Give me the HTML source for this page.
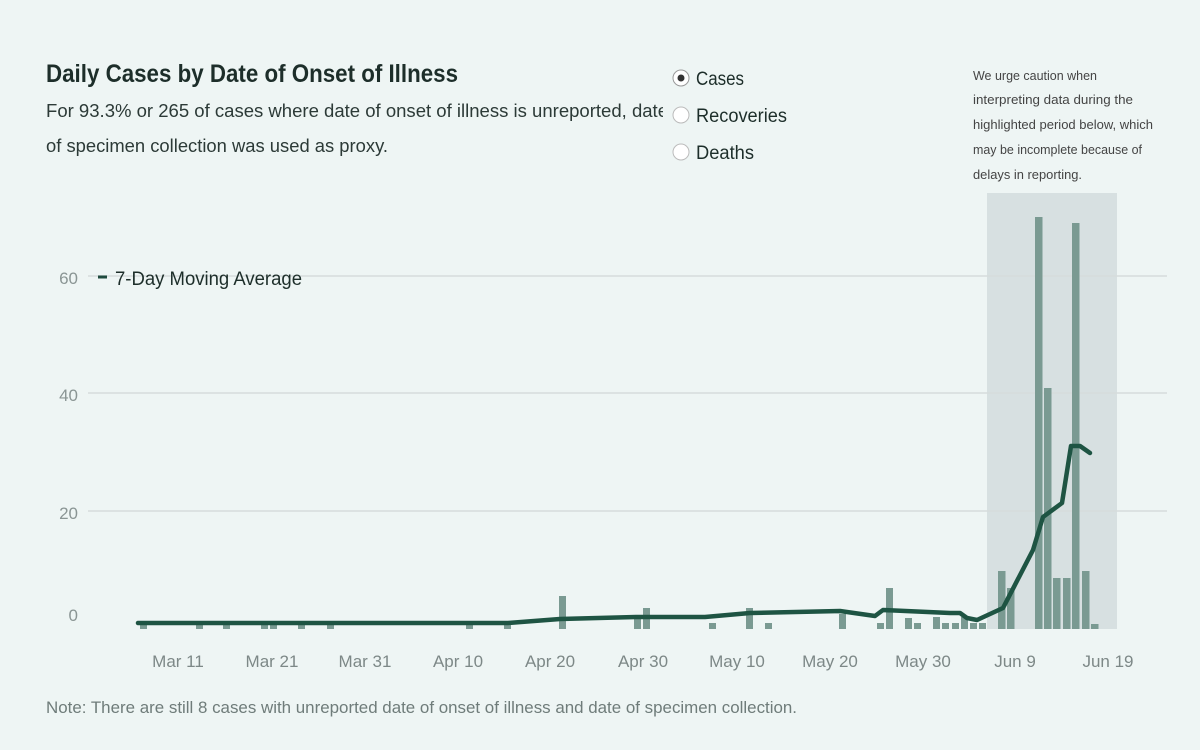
<!DOCTYPE html>
<html><head><meta charset="utf-8"><style>
html,body{margin:0;padding:0;background:#eef5f4;}
svg{display:block;font-family:"Liberation Sans",sans-serif;}
</style></head><body>
<svg width="1200" height="750" viewBox="0 0 1200 750" xmlns="http://www.w3.org/2000/svg">
<rect width="1200" height="750" fill="#eef5f4"/>
<text x="46" y="82" font-size="25" font-weight="bold" fill="#1d2e2a" textLength="412" lengthAdjust="spacingAndGlyphs">Daily Cases by Date of Onset of Illness</text>
<text x="46" y="117" font-size="18" fill="#2c3a37" textLength="622" lengthAdjust="spacingAndGlyphs">For 93.3% or 265 of cases where date of onset of illness is unreported, date</text>
<rect x="663" y="95" width="10" height="30" fill="#eef5f4"/>
<text x="46" y="152" font-size="18" fill="#2c3a37" textLength="342" lengthAdjust="spacingAndGlyphs">of specimen collection was used as proxy.</text>
<circle cx="681" cy="78" r="8" fill="#fff" stroke="#999" stroke-width="1"/>
<circle cx="681" cy="78" r="3.5" fill="#333"/>
<circle cx="681" cy="115" r="8" fill="#fff" stroke="#bbb" stroke-width="1"/>
<circle cx="681" cy="152" r="8" fill="#fff" stroke="#bbb" stroke-width="1"/>
<text x="696" y="85" font-size="19" fill="#1d2e2a" textLength="48" lengthAdjust="spacingAndGlyphs">Cases</text>
<text x="696" y="122" font-size="19" fill="#1d2e2a" textLength="91" lengthAdjust="spacingAndGlyphs">Recoveries</text>
<text x="696" y="159" font-size="19" fill="#1d2e2a" textLength="58" lengthAdjust="spacingAndGlyphs">Deaths</text>
<g font-size="13" fill="#444">
<text x="973" y="80" textLength="124" lengthAdjust="spacingAndGlyphs">We urge caution when</text>
<text x="973" y="104" textLength="160" lengthAdjust="spacingAndGlyphs">interpreting data during the</text>
<text x="973" y="129" textLength="180" lengthAdjust="spacingAndGlyphs">highlighted period below, which</text>
<text x="973" y="154" textLength="169" lengthAdjust="spacingAndGlyphs">may be incomplete because of</text>
<text x="973" y="179" textLength="109" lengthAdjust="spacingAndGlyphs">delays in reporting.</text>
</g>
<rect x="987" y="193" width="130" height="436" fill="#d7e0e1"/>
<g stroke="#d5dcdc" stroke-width="1.5">
<line x1="88" y1="276" x2="1167" y2="276"/>
<line x1="88" y1="393" x2="1167" y2="393"/>
<line x1="88" y1="511" x2="1167" y2="511"/>
</g>
<g font-size="17" fill="#8a9594" text-anchor="end">
<text x="78" y="284">60</text>
<text x="78" y="401">40</text>
<text x="78" y="519">20</text>
<text x="78" y="621">0</text>
</g>
<line x1="98" y1="277" x2="107" y2="277" stroke="#1e4a3e" stroke-width="3"/>
<text x="115" y="285" font-size="19" fill="#1d2e2a" textLength="187" lengthAdjust="spacingAndGlyphs">7-Day Moving Average</text>
<g fill="#7a9a92">
<rect x="140" y="623" width="7" height="6"/>
<rect x="196" y="623" width="7" height="6"/>
<rect x="223" y="623" width="7" height="6"/>
<rect x="261" y="623" width="7" height="6"/>
<rect x="270" y="623" width="7" height="6"/>
<rect x="298" y="623" width="7" height="6"/>
<rect x="327" y="623" width="7" height="6"/>
<rect x="466" y="623" width="7" height="6"/>
<rect x="504" y="623" width="7" height="6"/>
<rect x="559" y="596" width="7" height="33"/>
<rect x="634" y="617" width="7" height="12"/>
<rect x="643" y="608" width="7" height="21"/>
<rect x="709" y="623" width="7" height="6"/>
<rect x="746" y="608" width="7" height="21"/>
<rect x="765" y="623" width="7" height="6"/>
<rect x="839" y="614" width="7" height="15"/>
<rect x="877" y="623" width="7" height="6"/>
<rect x="886" y="588" width="7" height="41"/>
<rect x="905" y="618" width="7" height="11"/>
<rect x="914" y="623" width="7" height="6"/>
<rect x="933" y="617" width="7" height="12"/>
<rect x="942" y="623" width="7" height="6"/>
<rect x="952" y="623" width="7" height="6"/>
<rect x="961" y="617" width="7" height="12"/>
<rect x="970" y="623" width="7" height="6"/>
<rect x="979" y="623" width="7" height="6"/>
<rect x="998" y="571" width="7.5" height="58"/>
<rect x="1007" y="588" width="7.5" height="41"/>
<rect x="1035" y="217" width="7.5" height="412"/>
<rect x="1044" y="388" width="7.5" height="241"/>
<rect x="1053" y="578" width="7.5" height="51"/>
<rect x="1063" y="578" width="7.5" height="51"/>
<rect x="1072" y="223" width="7.5" height="406"/>
<rect x="1082" y="571" width="7.5" height="58"/>
<rect x="1091" y="624" width="7.5" height="5"/>
</g>
<polyline fill="none" stroke="#1e5443" stroke-width="4.5" stroke-linejoin="round" stroke-linecap="round"
points="138,623 508,623 560,619 636,617 705,617 750,613 840,611 875,616 883,610 950,613 960,613 967,618 977,620 1003,608 1033,550 1043,517 1062,503 1071,446 1080,446 1090,453"/>
<g font-size="17" fill="#7d8887" text-anchor="middle">
<text x="178" y="667">Mar 11</text>
<text x="272" y="667">Mar 21</text>
<text x="365" y="667">Mar 31</text>
<text x="458" y="667">Apr 10</text>
<text x="550" y="667">Apr 20</text>
<text x="643" y="667">Apr 30</text>
<text x="737" y="667">May 10</text>
<text x="830" y="667">May 20</text>
<text x="923" y="667">May 30</text>
<text x="1015" y="667">Jun 9</text>
<text x="1108" y="667">Jun 19</text>
</g>
<text x="46" y="713" font-size="16.5" fill="#6f7c7a" textLength="751" lengthAdjust="spacingAndGlyphs">Note: There are still 8 cases with unreported date of onset of illness and date of specimen collection.</text>
</svg>
</body></html>
